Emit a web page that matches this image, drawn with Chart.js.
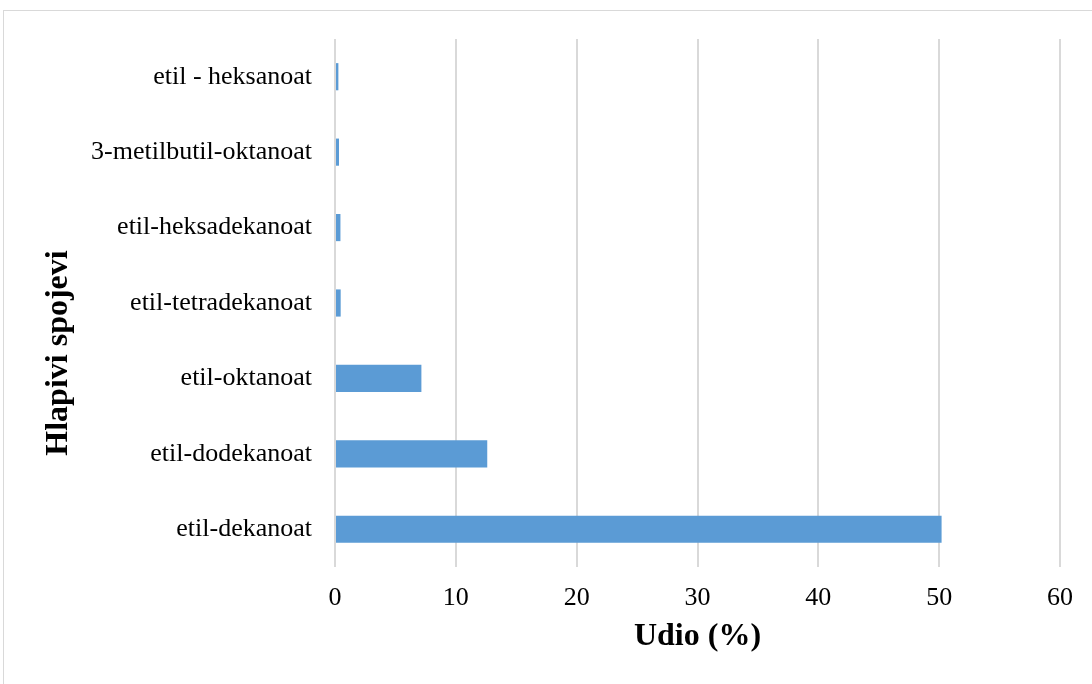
<!DOCTYPE html>
<html>
<head>
<meta charset="utf-8">
<script src="https://cdn.jsdelivr.net/npm/chart.js@4"></script>
<style>
  body { margin: 0; background: #fff; }
  #frame { position: absolute; left: 3px; top: 10px; width: 1100px; height: 690px; border: 1px solid #d9d9d9; }
  #wrap { position: absolute; left: 0; top: 0; width: 1092px; height: 684px; }
</style>
</head>
<body>
<div id="frame"></div>
<div id="wrap"><canvas id="chart"></canvas></div>
<script>
// data
const CATEGORIES = ["etil - heksanoat", "3-metilbutil-oktanoat", "etil-heksadekanoat", "etil-tetradekanoat", "etil-oktanoat", "etil-dodekanoat", "etil-dekanoat"]
const UDIO = [0.28, 0.33, 0.45, 0.47, 7.15, 12.6, 50.2]
const X_TICKS = [0, 10, 20, 30, 40, 50, 60]
const Y_TITLE = "Hlapivi spojevi"

const FONT = "'Liberation Serif', 'Times New Roman', serif"

// y title sits a bit below the plot centre in the original, so draw it by hand
const yTitlePlugin = {
    id: "yTitle",
    afterDraw: (chart) => {
        const ctx = chart.ctx
        ctx.save()
        ctx.translate(59, 353)
        ctx.rotate(-Math.PI / 2)
        ctx.font = "bold 32px " + FONT
        ctx.fillStyle = "#000"
        ctx.textAlign = "center"
        ctx.textBaseline = "middle"
        ctx.fillText(Y_TITLE, 0, 0)
        ctx.restore()
    }
}

const createChart = () => {
    new Chart("chart", {
        type: "bar",
        data: {
            labels: CATEGORIES,
            datasets: [{
                label: "Udio (%)",
                data: UDIO,
                backgroundColor: "#5b9bd5",
                barPercentage: 0.36,
                categoryPercentage: 1
            }]
        },
        options: {
            indexAxis: "y",
            responsive: true,
            maintainAspectRatio: false,
            animation: false,
            layout: { padding: { top: 39, right: 32, left: 0, bottom: 0 } },
            plugins: { legend: { display: false }, tooltip: { enabled: false } },
            scales: {
                x: {
                    min: 0,
                    max: 60,
                    afterBuildTicks: (scale) => { scale.ticks = X_TICKS.map(v => ({ value: v })) },
                    afterFit: (scale) => { scale.height = 117 },
                    grid: { color: "#d9d9d9", lineWidth: 2, drawTicks: false },
                    border: { display: false },
                    ticks: { color: "#000", padding: 16, font: { family: FONT, size: 26 } },
                    title: {
                        display: true,
                        text: "Udio (%)",
                        color: "#000",
                        padding: { top: 28, bottom: 28 },
                        font: { family: FONT, size: 32, weight: "bold" }
                    }
                },
                y: {
                    afterFit: (scale) => { scale.width = 335 },
                    grid: { display: false },
                    border: { display: false },
                    ticks: { color: "#000", padding: 15, font: { family: FONT, size: 26 } }
                }
            }
        },
        plugins: [yTitlePlugin]
    })
}

createChart()
</script>
</body>
</html>
